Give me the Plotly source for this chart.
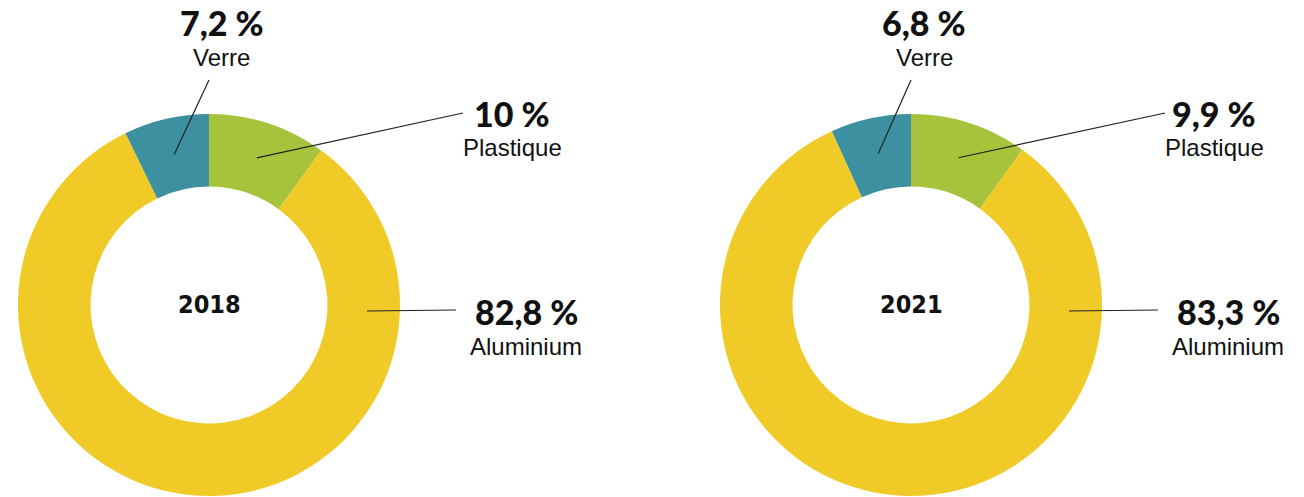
import math
import plotly.graph_objects as go

# ---- data ----
materials = ["Plastique", "Aluminium", "Verre"]
years = ["2018", "2021"]
values_2018 = [10.0, 82.8, 7.2]
values_2021 = [9.9, 83.3, 6.8]
value_labels_2018 = ["10 %", "82,8 %", "7,2 %"]
value_labels_2021 = ["9,9 %", "83,3 %", "6,8 %"]
colors = ["#A7C33C", "#F0CB28", "#3D909F"]

W, H = 1304, 497
def px(x): return x / W
def py(y): return 1 - y / H

# donut geometry (pixels)
centers = [(209, 305), (911, 305)]
R_OUT = 191
HOLE = 0.62

fig = go.Figure()
all_vals = [values_2018, values_2021]
all_labels = [value_labels_2018, value_labels_2021]

annotations = []
shapes = []
num_font = dict(family="Lato, 'DejaVu Sans', sans-serif", size=34, color="#111111", weight=900)
name_font = dict(family="'Liberation Sans', Arial, sans-serif", size=24, color="#111111")
year_font = dict(family="'Liberation Sans Narrow', 'Arial Narrow', 'DejaVu Sans Condensed', Roboto, sans-serif",
                 size=25, color="#111111", weight=700)
line_style = dict(color="#222222", width=1.2)

# label placements (offsets from donut centre, pixels): (number centre, name centre)
label_pos = {
    "Plastique": ((303, -191), (303, -157)),
    "Aluminium": ((317, 6), (317, 41)),
    "Verre": ((13, -282), (13, -247)),
}
line_end = {"Plastique": (254, -192), "Aluminium": (247, 5), "Verre": (0, -225)}

for i, (vals, labs) in enumerate(zip(all_vals, all_labels)):
    cx, cy = centers[i]
    fig.add_trace(go.Pie(
        labels=materials, values=vals, sort=False, direction="clockwise",
        rotation=0, hole=HOLE, textinfo="none", hoverinfo="label+percent",
        marker=dict(colors=colors, line=dict(width=0)),
        showlegend=False,
        domain=dict(x=[px(cx - R_OUT), px(cx + R_OUT)],
                    y=[py(cy + R_OUT), py(cy - R_OUT)]),
    ))
    # centre year
    annotations.append(dict(x=px(cx), y=py(cy - 1), xref="paper", yref="paper",
                            text=years[i], showarrow=False, font=year_font,
                            xanchor="center", yanchor="middle"))
    total = sum(vals)
    r_mid = R_OUT * (1 + HOLE) / 2
    cum = 0
    for m, v, lab in zip(materials, vals, labs):
        mid = (cum + v / 2) / total * 2 * math.pi
        cum += v
        if m == "Aluminium":
            sx, sy = cx + 158, cy + 6
        else:
            sx = cx + r_mid * math.sin(mid)
            sy = cy - r_mid * math.cos(mid)
        (nx, ny), (lx, ly) = label_pos[m]
        ex, ey = line_end[m]
        shapes.append(dict(type="line", xref="paper", yref="paper",
                           x0=px(sx), y0=py(sy), x1=px(cx + ex), y1=py(cy + ey),
                           line=line_style))
        annotations.append(dict(x=px(cx + nx), y=py(cy + ny), xref="paper", yref="paper",
                                text=lab, showarrow=False, font=num_font, borderpad=0,
                                xanchor="center", yanchor="middle"))
        annotations.append(dict(x=px(cx + lx), y=py(cy + ly), xref="paper", yref="paper",
                                text=m, showarrow=False, font=name_font, borderpad=0,
                                xanchor="center", yanchor="middle"))

fig.update_layout(
    width=W, height=H, margin=dict(l=0, r=0, t=0, b=0),
    paper_bgcolor="white", plot_bgcolor="white",
    annotations=annotations, shapes=shapes,
)
fig.write_html("out.html", config={"displayModeBar": False},
               post_script="document.body.style.margin='0';")
